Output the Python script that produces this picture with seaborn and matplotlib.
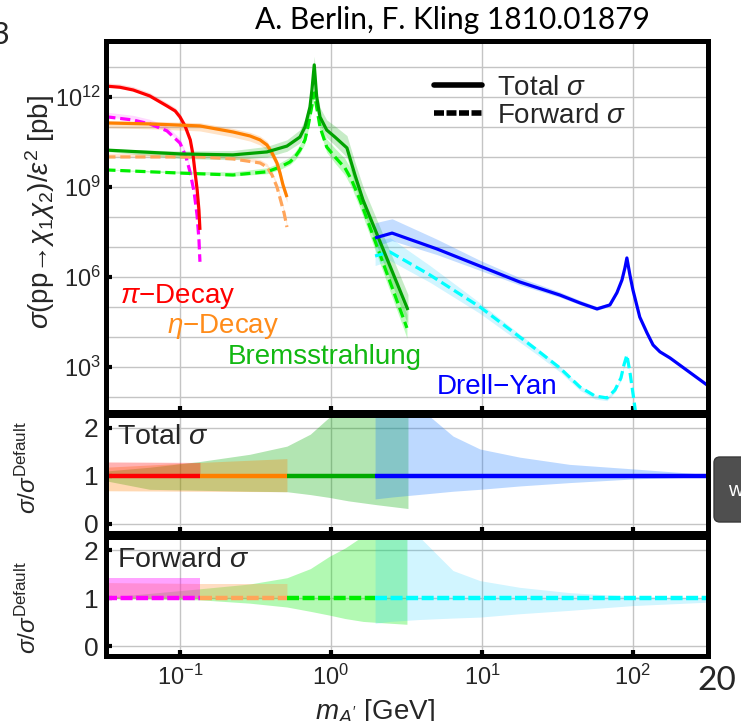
import numpy as np
import pandas as pd
import matplotlib
matplotlib.use("Agg")
import matplotlib.pyplot as plt
from matplotlib.ticker import FixedLocator, NullLocator, LogFormatterSciNotation, NullFormatter
from matplotlib.lines import Line2D
from matplotlib.patches import FancyBboxPatch
import seaborn as sns

# ---------------- cross sections sigma(pp -> chi1 chi2)/eps^2 [pb] vs m_A' [GeV] ----------------
PI_TOTAL_M = [0.032, 0.04, 0.049, 0.063, 0.082, 0.093, 0.1, 0.108, 0.117, 0.122, 0.126, 0.13, 0.1335, 0.1356]
PI_TOTAL_XS = [2.3e12, 2.1e12, 1.7e12, 1.08e12, 5.0e11, 3.4e11, 2.15e11, 1.08e11, 3.7e10, 1.17e10, 2.9e9, 7.9e8, 1.7e8, 3.7e7]

PI_FWD_M = [0.032, 0.049, 0.063, 0.082, 0.1, 0.1096, 0.1165, 0.124, 0.1297, 0.1336, 0.1356]
PI_FWD_XS = [2.2e11, 1.7e11, 1.26e11, 7.4e10, 2.9e10, 1.0e10, 3.2e9, 6.8e8, 1.17e8, 1.7e7, 3.2e6]

ETA_TOTAL_M = [0.032, 0.063, 0.1356, 0.224, 0.291, 0.339, 0.377, 0.407, 0.439, 0.46, 0.481, 0.511]
ETA_TOTAL_XS = [1.36e11, 1.26e11, 1.08e11, 6.8e10, 5.0e10, 3.7e10, 2.5e10, 1.36e10, 6.3e9, 2.9e9, 1.17e9, 4.6e8]

ETA_FWD_M = [0.032, 0.1356, 0.224, 0.339, 0.377, 0.407, 0.439, 0.489, 0.511]
ETA_FWD_XS = [1.0e10, 1.0e10, 8.6e9, 6.3e9, 4.6e9, 2.5e9, 1.0e9, 1.36e8, 4.6e7]

BREM_TOTAL_M = [0.032, 0.1, 0.224, 0.377, 0.511, 0.623, 0.673, 0.726, 0.748, 0.775, 0.804, 0.846,
                0.937, 1.063, 1.276, 1.442, 1.629, 3.236]
BREM_TOTAL_XS = [1.7e10, 1.26e10, 1.17e10, 1.47e10, 2.3e10, 4.6e10, 1.0e11, 4.6e11, 1.7e12, 1.17e13, 1.0e12, 2.15e11,
                 7.9e10, 4.6e10, 2.0e10, 2.5e9, 3.7e8, 7.9e4]

BREM_FWD_M = [0.032, 0.1, 0.224, 0.377, 0.46, 0.535, 0.578, 0.623, 0.673, 0.704, 0.745, 0.775, 0.804, 0.846,
              0.937, 1.063, 1.238, 1.371, 1.556, 3.186]
BREM_FWD_XS = [3.7e9, 2.9e9, 2.5e9, 3.2e9, 4.6e9, 6.8e9, 1.0e10, 1.7e10, 3.7e10, 1.0e11, 4.6e11, 1.36e12, 4.6e11, 1.0e11,
               2.15e10, 1.0e10, 4.3e9, 1.7e9, 3.7e8, 2.0e4]

DY_TOTAL_M = [1.96, 2.54, 5.03, 9.7, 17.8, 32.8, 44.6, 57.8, 70.4, 78.4, 84.6, 88.5, 91.2, 95.5, 100,
              111, 124, 136, 151, 176, 310]
DY_TOTAL_XS = [2.0e7, 2.9e7, 8.6e6, 2.3e6, 6.8e5, 2.5e5, 1.36e5, 8.6e4, 1.17e5, 3.0e5, 7.9e5, 2.0e6, 4.3e6, 1.17e6, 3.7e5,
               4.6e4, 1.36e4, 5.4e3, 3.2e3, 2.0e3, 2.5e2]

DY_FWD_M = [1.96, 2.46, 4.52, 9.7, 23.1, 32.8, 44.6, 56.0, 67.3, 76.0, 83.3, 87.2, 91.2, 95.5, 101.5, 108]
DY_FWD_XS = [5.0e6, 6.8e6, 1.17e6, 1.0e5, 3.7e3, 9.3e2, 2.15e2, 1.08e2, 93, 1.7e2, 4.3e2, 1.17e3, 2.5e3, 6.8e2, 79, 7.9]

# ---------------- uncertainty bands, sigma / sigma_default ----------------
PI_BAND_M, PI_BAND_LO, PI_BAND_HI = [0.032, 0.1356], [1.0, 1.0], [1.29, 1.28]
ETA_BAND_M, ETA_BAND_LO, ETA_BAND_HI = [0.032, 0.1356, 0.511], [0.69, 0.68, 0.67], [1.18, 1.28, 1.36]
BREM_BAND_M = [0.032, 0.063, 0.1356, 0.29, 0.511, 0.73, 0.98, 1.3, 2.0, 3.236]
BREM_BAND_LO = [0.9, 0.72, 0.7, 0.68, 0.67, 0.61, 0.55, 0.48, 0.40, 0.32]
BREM_BAND_HI = [1.1, 1.18, 1.3, 1.45, 1.62, 1.87, 2.23, 2.6, 3.0, 3.3]
DY_BAND_M = [1.96, 2.54, 4.39, 6.43, 9.7, 17.8, 38, 106, 310]
DY_BAND_LO = [0.52, 0.56, 0.63, 0.68, 0.72, 0.79, 0.86, 0.94, 0.98]
DY_BAND_HI = [3.2, 3.0, 2.27, 1.83, 1.56, 1.39, 1.24, 1.14, 1.03]

PI_FBAND_M, PI_FBAND_LO, PI_FBAND_HI = [0.032, 0.1356], [1.0, 1.0], [1.43, 1.43]
ETA_FBAND_M, ETA_FBAND_LO, ETA_FBAND_HI = [0.032, 0.1356, 0.511], [1.0, 1.0, 1.0], [1.33, 1.31, 1.31]
BREM_FBAND_M = [0.032, 0.1356, 0.29, 0.511, 0.73, 0.98, 1.24, 1.63, 2.0, 3.186]
BREM_FBAND_LO = [1.0, 0.97, 0.9, 0.82, 0.73, 0.65, 0.58, 0.52, 0.5, 0.46]
BREM_FBAND_HI = [1.02, 1.2, 1.3, 1.43, 1.62, 1.88, 2.05, 2.3, 2.45, 2.8]
DY_FBAND_M = [1.96, 2.46, 3.88, 6.43, 9.7, 17.8, 38, 100, 310]
DY_FBAND_LO = [0.48, 0.52, 0.56, 0.59, 0.61, 0.68, 0.75, 0.85, 0.92]
DY_FBAND_HI = [3.2, 3.0, 2.27, 1.58, 1.37, 1.23, 1.12, 1.04, 1.0]

# ---------------- labels ----------------
PROCESS_LABELS = [r"$\pi$−Decay", r"$\eta$−Decay", "Bremsstrahlung", "Drell−Yan"]
MAIN_YTICKS = [1e3, 1e6, 1e9, 1e12]
RATIO_YTICKS = [0, 1, 2]
XTICKS = [0.1, 1, 10, 100]

# ---------------- style ----------------
RED, ORANGE, LORANGE, MAGENTA = "#FF0000", "#FF8000", "#FFA55A", "#FF00FF"
DKGREEN, GREEN, BLUE, CYAN = "#00A300", "#00EE00", "#0000FF", "#00FFFF"

sns.set_theme(style="white")
plt.rcParams["font.family"] = ["Liberation Sans", "DejaVu Sans"]
plt.rcParams["mathtext.fontset"] = "custom"
plt.rcParams["mathtext.rm"] = "Liberation Sans"
plt.rcParams["mathtext.it"] = "Liberation Sans:italic"
plt.rcParams["mathtext.bf"] = "Liberation Sans:bold"

fig = plt.figure(figsize=(7.41, 7.21), dpi=100)
fig.patch.set_facecolor("white")
L, W = 0.1437, 0.8117
ax_main = fig.add_axes([L, 0.4286, W, 0.5152])
ax_tot = fig.add_axes([L, 0.2601, W, 0.1644])
ax_fwd = fig.add_axes([L, 0.0902, W, 0.1644])
XLIM = (0.0326, 314)

for ax in (ax_main, ax_tot, ax_fwd):
    ax.set_xscale("log")
    ax.set_xlim(*XLIM)
    ax.set_facecolor("white")
    for s in ax.spines.values():
        s.set_linewidth(3.6)
        s.set_color("black")
        s.set_zorder(10)
    ax.xaxis.set_major_locator(FixedLocator(XTICKS))
    ax.xaxis.set_minor_locator(NullLocator())
    ax.tick_params(which="major", direction="in", length=4, width=3, color="black",
                   top=False, right=False, bottom=True, left=True)
    ax.tick_params(which="minor", length=0)
    ax.grid(True, which="major", color="#c4c4c4", lw=1.0, zorder=0)
    ax.set_axisbelow(True)


def curve(ax, m, xs, color, lw, dashes=None, z=3):
    df = pd.DataFrame({"m": m, "xs": xs})
    sns.lineplot(data=df, x="m", y="xs", ax=ax, color=color, lw=lw, estimator=None,
                 sort=False, legend=False, zorder=z)
    line = ax.lines[-1]
    line.set_solid_capstyle("butt")
    if dashes is not None:
        line.set_dashes(dashes)
        line.set_dash_capstyle("butt")


def main_band(ax, m, xs, bm, blo, bhi, color, alpha):
    m = np.asarray(m)
    xs = np.asarray(xs)
    lo = np.interp(np.log10(m), np.log10(bm), blo)
    hi = np.interp(np.log10(m), np.log10(bm), bhi)
    ax.fill_between(m, xs * lo, xs * hi, color=color, alpha=alpha, lw=0, zorder=1)


# ---------------- main panel ----------------
ax_main.set_yscale("log")
ax_main.set_ylim(10 ** 1.5, 10 ** 13.88)
ax_main.yaxis.set_major_locator(FixedLocator(MAIN_YTICKS))
ax_main.yaxis.set_minor_locator(FixedLocator([10.0 ** k for k in range(2, 14)]))
ax_main.yaxis.set_major_formatter(LogFormatterSciNotation())
ax_main.yaxis.set_minor_formatter(NullFormatter())
ax_main.grid(True, which="minor", axis="y", color="#c4c4c4", lw=1.0, zorder=0)
ax_main.tick_params(axis="y", which="major", labelsize=17, pad=4)
ax_main.tick_params(axis="x", labelbottom=False)

main_band(ax_main, PI_FWD_M, PI_FWD_XS, PI_FBAND_M, PI_FBAND_LO, PI_FBAND_HI, MAGENTA, 0.15)
main_band(ax_main, PI_TOTAL_M, PI_TOTAL_XS, PI_BAND_M, PI_BAND_LO, PI_BAND_HI, RED, 0.15)
main_band(ax_main, ETA_FWD_M, ETA_FWD_XS, ETA_FBAND_M, ETA_FBAND_LO, ETA_FBAND_HI, LORANGE, 0.25)
main_band(ax_main, ETA_TOTAL_M, ETA_TOTAL_XS, ETA_BAND_M, ETA_BAND_LO, ETA_BAND_HI, ORANGE, 0.22)
main_band(ax_main, BREM_FWD_M, BREM_FWD_XS, BREM_FBAND_M, BREM_FBAND_LO, BREM_FBAND_HI, GREEN, 0.25)
main_band(ax_main, BREM_TOTAL_M, BREM_TOTAL_XS, BREM_BAND_M, BREM_BAND_LO, BREM_BAND_HI, "#00AA00", 0.22)
main_band(ax_main, DY_FWD_M, DY_FWD_XS, DY_FBAND_M, DY_FBAND_LO, DY_FBAND_HI, "#00C8FF", 0.18)
main_band(ax_main, DY_TOTAL_M, DY_TOTAL_XS, DY_BAND_M, DY_BAND_LO, DY_BAND_HI, "#1478FF", 0.25)

MAIN_LW = 2.3
MAIN_DASH = (3.2, 1.5)
curve(ax_main, PI_FWD_M, PI_FWD_XS, MAGENTA, MAIN_LW, MAIN_DASH)
curve(ax_main, ETA_FWD_M, ETA_FWD_XS, LORANGE, MAIN_LW, MAIN_DASH)
curve(ax_main, BREM_FWD_M, BREM_FWD_XS, GREEN, MAIN_LW, MAIN_DASH)
curve(ax_main, DY_FWD_M, DY_FWD_XS, CYAN, MAIN_LW, MAIN_DASH)
curve(ax_main, PI_TOTAL_M, PI_TOTAL_XS, RED, MAIN_LW)
curve(ax_main, ETA_TOTAL_M, ETA_TOTAL_XS, ORANGE, MAIN_LW)
curve(ax_main, BREM_TOTAL_M, BREM_TOTAL_XS, DKGREEN, MAIN_LW)
curve(ax_main, DY_TOTAL_M, DY_TOTAL_XS, BLUE, MAIN_LW)

label_colors = [RED, "#FF8C1A", "#12B812", BLUE]
label_pos = [(0.023, 0.312), (0.100, 0.229), (0.202, 0.148), (0.549, 0.067)]
for txt, c, (fx, fy) in zip(PROCESS_LABELS, label_colors, label_pos):
    ax_main.text(fx, fy, txt, color=c, fontsize=20, ha="left", va="center",
                 transform=ax_main.transAxes, zorder=6)

handles = [Line2D([], [], color="black", lw=4),
           Line2D([], [], color="black", lw=4, dashes=(1.8, 0.45))]
leg = ax_main.legend(handles, [r"Total $\sigma$", r"Forward $\sigma$"], loc="upper left",
                     bbox_to_anchor=(0.5445, 0.908), frameon=False, fontsize=20,
                     handlelength=1.73, handletextpad=0.55, labelspacing=0.08,
                     borderaxespad=0, borderpad=0)

# ---------------- ratio panels ----------------
RATIO_LW = 3.2


def ratio_band(ax, bm, blo, bhi, color, alpha):
    ax.fill_between(bm, blo, bhi, color=color, alpha=alpha, lw=0, zorder=1)


for ax in (ax_tot, ax_fwd):
    ax.set_ylim(-0.2, 2.27)
    ax.yaxis.set_major_locator(FixedLocator(RATIO_YTICKS))
    ax.yaxis.set_minor_locator(NullLocator())
    ax.tick_params(axis="y", which="major", labelsize=19, pad=6)

ax_tot.tick_params(axis="x", labelbottom=False)
ax_fwd.tick_params(axis="x", which="major", labelsize=17, pad=6)
ax_fwd.xaxis.set_major_formatter(LogFormatterSciNotation())

# total
ratio_band(ax_tot, BREM_BAND_M, BREM_BAND_LO, BREM_BAND_HI, "#00AA00", 0.30)
ratio_band(ax_tot, ETA_BAND_M, ETA_BAND_LO, ETA_BAND_HI, ORANGE, 0.30)
ratio_band(ax_tot, PI_BAND_M, PI_BAND_LO, PI_BAND_HI, RED, 0.30)
ratio_band(ax_tot, DY_BAND_M, DY_BAND_LO, DY_BAND_HI, "#1478FF", 0.28)

tot_segments = [
    ([PI_TOTAL_M[0], PI_TOTAL_M[-1]], RED),
    ([PI_TOTAL_M[-1], ETA_TOTAL_M[-1]], ORANGE),
    ([ETA_TOTAL_M[-1], DY_TOTAL_M[0]], "#00AA00"),
    ([DY_TOTAL_M[0], DY_TOTAL_M[-1]], BLUE),
]
for xs_, c in tot_segments:
    curve(ax_tot, xs_, [1, 1], c, RATIO_LW)

# forward
ratio_band(ax_fwd, BREM_FBAND_M, BREM_FBAND_LO, BREM_FBAND_HI, GREEN, 0.30)
ratio_band(ax_fwd, ETA_FBAND_M, ETA_FBAND_LO, ETA_FBAND_HI, "#FFA050", 0.35)
ratio_band(ax_fwd, PI_FBAND_M, PI_FBAND_LO, PI_FBAND_HI, MAGENTA, 0.36)
ratio_band(ax_fwd, DY_FBAND_M, DY_FBAND_LO, DY_FBAND_HI, "#00C8FF", 0.18)

fwd_segments = [
    ([PI_FWD_M[0], PI_FWD_M[-1]], MAGENTA),
    ([PI_FWD_M[-1], ETA_FWD_M[-1]], LORANGE),
    ([ETA_FWD_M[-1], DY_FWD_M[0]], GREEN),
    ([DY_FWD_M[0], XLIM[1]], CYAN),
]
for xs_, c in fwd_segments:
    curve(ax_fwd, xs_, [1, 1], c, RATIO_LW, dashes=(2.7, 0.8))

ax_tot.text(0.018, 0.81, r"Total $\sigma$", fontsize=20.5, ha="left", va="center",
            transform=ax_tot.transAxes, zorder=6)
ax_fwd.text(0.018, 0.81, r"Forward $\sigma$", fontsize=20.5, ha="left", va="center",
            transform=ax_fwd.transAxes, zorder=6)

for ax in (ax_main, ax_tot, ax_fwd):
    ax.set_xlabel("")
    ax.set_ylabel("")

# ---------------- axis titles and page text ----------------
fig.text(40 / 741, 1 - 212 / 721, r"$\sigma$(pp→$\chi_1\chi_2$)/$\varepsilon^2$ [pb]",
         rotation=90, ha="center", va="center", fontsize=20)
for yc in (468, 608):
    fig.text(28 / 741, 1 - yc / 721, r"$\sigma/\sigma^{\mathrm{Default}}$",
             rotation=90, ha="center", va="center", fontsize=17.5)
fig.text(375 / 741, 1 - 712 / 721, r"$m_{A'}$ [GeV]", ha="center", va="center", fontsize=20)

fig.text(452 / 741, 1 - 20 / 721, "A. Berlin, F. Kling 1810.01879", ha="center", va="center",
         fontsize=21.5, color="black", family=["Lato", "DejaVu Sans"])
fig.text(-8 / 741, 1 - 35 / 721, "3", ha="left", va="center", fontsize=22,
         family=["Lato", "DejaVu Sans"])
fig.text(697 / 741, 1 - 681 / 721, "20", ha="left", va="center", fontsize=24,
         family=["Lato", "DejaVu Sans"])

box = FancyBboxPatch((714 / 741, 1 - 522 / 721), 40 / 741, 65 / 721,
                     boxstyle="round,pad=0,rounding_size=0.008", transform=fig.transFigure,
                     facecolor="#4f4f4f", edgecolor="#3a3a3a", lw=1, zorder=20)
fig.patches.append(box)
fig.text(728 / 741, 1 - 490 / 721, "w", ha="left", va="center", fontsize=15, color="white", zorder=21)

fig.savefig("out.png", dpi=100, facecolor="white")
